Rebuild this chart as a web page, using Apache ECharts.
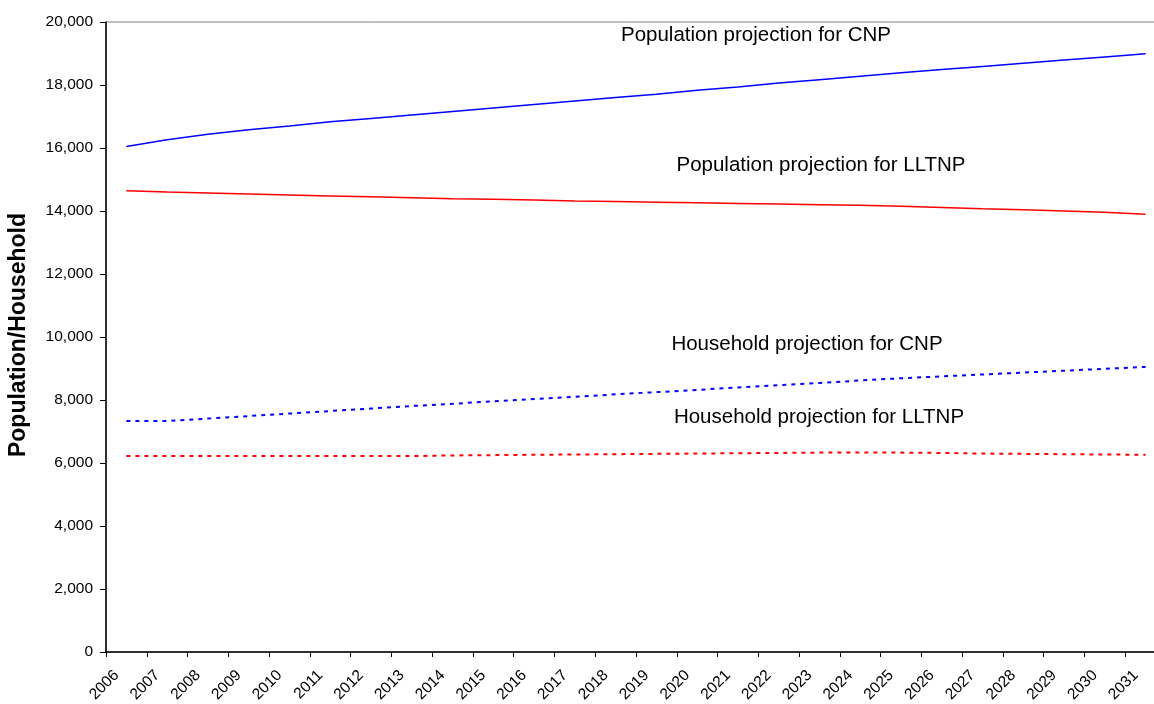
<!DOCTYPE html>
<html>
<head>
<meta charset="utf-8">
<script src="https://cdn.jsdelivr.net/npm/echarts@6/dist/echarts.min.js"></script>
<style>
html,body{margin:0;padding:0;background:#fff;}
#chart{width:1154px;height:704px;}
</style>
</head>
<body>
<div id="chart"></div>
<script>
var years = ['2006','2007','2008','2009','2010','2011','2012','2013','2014','2015','2016','2017','2018','2019','2020','2021','2022','2023','2024','2025','2026','2027','2028','2029','2030','2031'];
var popCNP = [16050,16260,16440,16580,16700,16830,16940,17050,17160,17270,17380,17490,17600,17710,17830,17940,18060,18170,18280,18390,18490,18590,18690,18790,18890,18990];
var popLLTNP = [14640,14600,14570,14540,14510,14480,14450,14420,14390,14370,14350,14320,14300,14280,14260,14240,14220,14200,14180,14150,14110,14070,14040,14000,13960,13900];
var hhCNP = [7330,7330,7410,7490,7570,7650,7730,7810,7880,7960,8030,8100,8180,8250,8320,8400,8470,8540,8620,8690,8750,8810,8870,8930,8990,9050];
var hhLLTNP = [6220,6220,6220,6220,6220,6220,6220,6220,6240,6250,6260,6270,6280,6290,6300,6310,6320,6330,6330,6330,6320,6300,6290,6280,6270,6260];
var yTicks = {min: 0, max: 20000, interval: 2000};
var yTitle = 'Population/Household';
var notes = ['Population projection for CNP','Population projection for LLTNP','Household projection for CNP','Household projection for LLTNP'];

var chart = echarts.init(document.getElementById('chart'));
var font = 'Arial, "Liberation Sans", Helvetica, sans-serif';
function note(text, x, y) {
  return {type:'text', x:x, y:y, style:{text:text, font:'20.5px ' + font, fill:'#000', textAlign:'center', textVerticalAlign:'middle'}};
}
chart.setOption({
  animation: false,
  backgroundColor: '#fff',
  grid: {left: 106, top: 22, width: 1060, height: 630, outerBoundsMode: 'none', containLabel: false,
         show: true, borderColor: '#808080', borderWidth: 1, backgroundColor: 'transparent'},
  xAxis: {
    type: 'category', data: years, boundaryGap: true,
    axisLine: {lineStyle: {color: '#000', width: 1.5}},
    axisTick: {show: true, alignWithLabel: false, length: 5, lineStyle: {color: '#000'}},
    axisLabel: {rotate: 45, interval: 0, fontFamily: font, fontSize: 15.5, color: '#000', margin: 11, padding: [0, 14, 0, 0]},
    splitLine: {show: false}
  },
  yAxis: {
    type: 'value', min: yTicks.min, max: yTicks.max, interval: yTicks.interval,
    axisLine: {show: true, lineStyle: {color: '#000', width: 1.5}},
    axisTick: {show: true, length: 6, lineStyle: {color: '#000'}},
    axisLabel: {fontFamily: font, fontSize: 15.5, color: '#000', margin: 13,
      formatter: function (v) { return v.toLocaleString('en-US'); }},
    splitLine: {show: false}
  },
  graphic: [
    {type:'text', x:19, y:335, rotation: Math.PI/2, style:{text: yTitle, font:'bold 23px ' + font, fill:'#000', textAlign:'center', textVerticalAlign:'middle'}},
    note(notes[0], 756, 35),
    note(notes[1], 821, 165),
    note(notes[2], 807, 344),
    note(notes[3], 819, 417)
  ],
  series: [
    {type:'line', data: popCNP, showSymbol:false, lineStyle:{color:'#0000FF', width:1.5}},
    {type:'line', data: popLLTNP, showSymbol:false, lineStyle:{color:'#FF0000', width:1.5}},
    {type:'line', data: hhCNP, showSymbol:false, lineStyle:{color:'#0000FF', width:2, type:[4,5]}},
    {type:'line', data: hhLLTNP, showSymbol:false, lineStyle:{color:'#FF0000', width:2, type:[4,5]}}
  ]
});
</script>
</body>
</html>
